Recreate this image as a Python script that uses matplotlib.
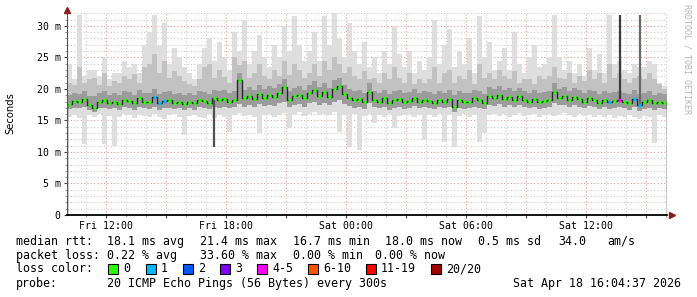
import matplotlib
matplotlib.use("Agg")
import matplotlib.pyplot as plt
from matplotlib.patches import Rectangle
import numpy as np

# time axis: hours since Fri 00:00, one sample every 15 min
T0 = 10.07
STEP = 0.25

# median rtt (ms)
med = [17.6, 18.1, 17.9, 18.4, 17.5, 16.9, 17.9, 18.2, 17.8, 18.0, 17.6, 18.3,
       18.1, 17.7, 18.5, 18.0, 17.9, 18.7, 17.8, 18.1, 18.2, 17.8, 18.0, 17.6,
       18.0, 17.7, 18.3, 18.1, 17.8, 18.6, 18.2, 18.4, 18.0, 18.3, 21.4, 18.5,
       18.9, 18.4, 19.2, 18.6, 19.0, 18.7, 19.4, 20.3, 18.3, 18.8, 19.1, 18.5,
       19.3, 19.8, 18.9, 19.5, 18.7, 20.0, 20.5, 19.2, 18.6, 18.2, 18.4, 17.9,
       19.5, 18.3, 18.0, 18.5, 17.8, 18.2, 18.4, 17.9, 18.1, 18.6, 18.0, 18.3,
       18.1, 17.8, 18.3, 18.0, 18.4, 17.2, 18.2, 17.9, 18.0, 18.5, 18.2, 17.8,
       18.9, 18.6, 19.1, 18.4, 18.7, 18.2, 18.8, 18.3, 18.0, 18.4, 17.9, 18.1,
       18.3, 19.5, 18.6, 18.9, 18.2, 18.7, 18.4, 18.0, 18.5, 18.2, 17.8, 18.3,
       17.9, 18.1, 18.2, 18.0, 17.8, 18.4, 17.5, 17.9, 18.2, 17.7, 18.0, 17.8]

# lost pings out of 20
loss = [0, 0, 0, 0, 0, 0, 0, 0, 0, 0, 0, 0, 0, 0, 0, 0, 0, 1, 1, 1, 0, 0, 0, 0,
        0, 0, 0, 0, 0, 0, 0, 0, 0, 0, 0, 0, 0, 0, 0, 0, 0, 0, 0, 0, 0, 0, 0, 0,
        0, 0, 0, 0, 0, 0, 0, 0, 0, 0, 0, 0, 0, 0, 0, 0, 0, 0, 0, 0, 0, 0, 0, 0,
        0, 0, 0, 0, 0, 0, 0, 0, 0, 0, 0, 0, 0, 0, 0, 0, 0, 0, 0, 0, 0, 0, 0, 0,
        0, 0, 0, 0, 0, 0, 0, 0, 0, 0, 0, 0, 1, 0, 4, 0, 0, 1, 1, 0, 0, 0, 0, 0]

# smoke: fastest ping, lower quartile, upper quartile, 90th pct, slowest ping
lo = [15.6, 15.9, 15.4, 11.2, 15.8, 15.5, 16.0, 11.2, 15.7, 11.0, 15.6, 16.1,
      15.8, 15.4, 15.9, 15.7, 15.5, 16.0, 15.6, 15.3, 15.8, 16.0, 15.5, 12.7,
      15.7, 15.9, 15.6, 15.4, 16.0, 15.4, 15.8, 15.6, 13.2, 15.9, 16.2, 15.7,
      15.9, 15.5, 13.0, 15.8, 16.1, 15.6, 15.9, 16.2, 13.8, 15.8, 16.3, 15.7,
      16.0, 16.3, 15.8, 16.1, 15.9, 16.4, 13.2, 15.8, 10.8, 16.0, 10.3, 15.7,
      16.0, 14.6, 15.8, 15.6, 16.1, 13.8, 15.7, 15.9, 16.0, 15.6, 15.8, 11.9,
      15.9, 15.6, 16.0, 11.6, 15.8, 10.8, 15.7, 16.0, 15.5, 15.9, 11.6, 13.0,
      15.8, 16.1, 15.7, 16.0, 15.6, 15.9, 16.2, 15.7, 15.8, 16.0, 15.5, 15.8,
      16.0, 15.7, 15.9, 16.2, 15.8, 15.6, 16.0, 15.7, 15.9, 15.5, 15.8, 15.6,
      15.9, 15.4, 15.7, 15.5, 15.9, 15.6, 15.3, 15.7, 15.5, 11.4, 15.8, 15.6]
q1 = [16.8, 17.0, 16.9, 17.1, 16.6, 16.3, 16.9, 17.0, 16.8, 16.9, 16.7, 17.1,
      17.0, 16.7, 17.2, 16.9, 16.8, 17.2, 16.7, 16.9, 17.0, 16.8, 16.9, 16.6,
      16.9, 16.7, 17.1, 17.0, 16.8, 17.1, 17.0, 17.2, 16.9, 17.1, 17.6, 17.2,
      17.5, 17.1, 17.6, 17.3, 17.5, 17.3, 17.8, 17.9, 17.1, 17.4, 17.6, 17.2,
      17.7, 18.0, 17.5, 17.8, 17.4, 18.0, 18.2, 17.6, 17.3, 17.0, 17.2, 16.8,
      17.7, 17.1, 16.9, 17.2, 16.7, 17.0, 17.2, 16.8, 17.0, 17.3, 16.9, 17.1,
      17.0, 16.8, 17.1, 16.9, 17.2, 16.4, 17.0, 16.8, 16.9, 17.2, 17.0, 16.8,
      17.5, 17.3, 17.6, 17.2, 17.4, 17.1, 17.5, 17.2, 16.9, 17.2, 16.8, 17.0,
      17.2, 17.8, 17.4, 17.5, 17.1, 17.4, 17.2, 16.9, 17.3, 17.1, 16.8, 17.1,
      16.8, 17.0, 17.1, 16.9, 16.7, 17.2, 16.5, 16.8, 17.0, 16.7, 16.9, 16.8]
q3 = [19.0, 19.4, 19.2, 19.7, 18.9, 18.8, 19.3, 19.6, 19.1, 19.3, 19.0, 19.6,
      19.5, 19.1, 19.8, 19.4, 19.3, 20.0, 19.2, 19.5, 19.6, 19.2, 19.4, 19.0,
      19.3, 19.1, 19.6, 19.5, 19.2, 19.9, 19.6, 19.8, 19.4, 19.7, 22.5, 19.9,
      20.3, 19.8, 20.6, 20.0, 20.4, 20.1, 20.8, 21.6, 19.7, 20.2, 20.5, 19.9,
      20.7, 21.2, 20.3, 20.9, 20.1, 21.4, 21.8, 20.6, 20.0, 19.6, 19.8, 19.3,
      20.9, 19.7, 19.4, 19.9, 19.2, 19.6, 19.8, 19.3, 19.5, 20.0, 19.4, 19.7,
      19.5, 19.2, 19.7, 19.4, 19.8, 19.1, 19.6, 19.3, 19.4, 19.9, 19.6, 19.2,
      20.3, 20.0, 20.5, 19.8, 20.1, 19.6, 20.2, 19.7, 19.4, 19.8, 19.3, 19.5,
      19.7, 20.9, 20.0, 20.3, 19.6, 20.1, 19.8, 19.4, 19.9, 19.6, 19.2, 19.7,
      19.3, 19.5, 19.6, 19.4, 19.2, 19.8, 19.2, 19.3, 19.6, 19.1, 19.4, 19.2]
p90 = [21.0, 20.6, 23.5, 20.9, 21.5, 21.8, 20.7, 22.5, 20.5, 21.2, 21.0, 22.0,
       21.6, 22.3, 21.0, 23.5, 24.0, 25.5, 22.5, 24.5, 21.8, 22.8, 22.0, 21.2,
       20.8, 20.4, 21.5, 23.5, 24.0, 21.7, 23.0, 21.9, 21.0, 25.0, 23.8, 24.5,
       21.8, 22.5, 24.0, 22.0, 21.5, 23.0, 22.0, 24.5, 22.2, 24.0, 23.0, 21.8,
       22.5, 24.0, 22.0, 24.5, 23.0, 25.0, 24.0, 22.5, 23.5, 22.0, 21.5, 22.8,
       21.5, 21.8, 21.0, 22.5, 21.5, 23.5, 21.8, 21.0, 22.5, 20.8, 21.6, 21.0,
       21.5, 23.5, 21.0, 22.5, 23.0, 21.0, 22.0, 21.5, 23.0, 20.8, 24.0, 21.8,
       22.5, 21.5, 23.0, 22.0, 21.5, 22.8, 21.0, 21.5, 21.5, 20.8, 22.0, 21.5,
       22.0, 23.5, 21.8, 21.5, 22.5, 21.0, 22.0, 21.2, 23.0, 21.5, 22.5, 21.0,
       24.0, 21.8, 22.5, 21.5, 21.0, 21.8, 22.0, 21.5, 22.5, 21.6, 20.8, 20.0]
hi = [24.0, 21.5, 31.8, 22.0, 23.0, 23.0, 22.0, 25.0, 21.5, 22.5, 22.5, 24.5,
      23.5, 24.0, 22.5, 27.0, 29.0, 31.8, 27.0, 30.5, 24.0, 26.5, 25.0, 23.5,
      22.5, 21.5, 24.0, 26.5, 28.0, 24.5, 27.5, 25.0, 23.0, 29.0, 26.0, 31.0,
      24.0, 26.0, 28.5, 25.0, 23.5, 27.0, 25.0, 30.0, 26.0, 31.5, 27.0, 24.5,
      26.0, 29.0, 24.5, 31.5, 27.0, 32.0, 28.0, 25.0, 30.5, 26.0, 24.0, 27.5,
      23.5, 25.0, 22.5, 26.0, 24.0, 30.0, 25.5, 23.5, 26.0, 22.5, 24.5, 23.0,
      25.0, 31.0, 24.0, 27.0, 29.5, 23.5, 26.0, 24.0, 28.0, 22.5, 31.5, 25.0,
      27.5, 23.0, 24.5, 26.5, 23.0, 29.0, 24.0, 22.5, 25.0, 27.0, 23.5, 24.0,
      25.0, 31.8, 25.0, 23.0, 24.5, 22.5, 24.0, 22.0, 26.5, 23.0, 25.5, 22.5,
      31.8, 24.0, 24.5, 23.0, 22.5, 24.0, 23.5, 23.5, 24.5, 24.0, 21.0, 20.5]

# thin dark single-sample outliers (sample index, value)
spike_idx = [29, 110, 114]
spike_val = [10.8, 31.8, 31.8]
spike_col = ["#505050", "#3c3c3c", "#6a6a6a"]

loss_keys = [0, 1, 2, 3, 4, 6, 11, 20]
loss_labels = ["0", "1", "2", "3", "4-5", "6-10", "11-19", "20/20"]
loss_cols = ["#26ff00", "#00b8ff", "#0059ff", "#7e00ff", "#ff00ff",
             "#ff5500", "#ff0000", "#a10000"]

x_tick_pos = [12, 15, 18, 21, 24, 27, 30, 33, 36, 39]
x_tick_lab = ["Fri 12:00", "", "Fri 18:00", "", "Sat 00:00", "",
              "Sat 06:00", "", "Sat 12:00", ""]
y_tick_pos = [0, 5, 10, 15, 20, 25, 30]
y_tick_lab = ["0", "5 m", "10 m", "15 m", "20 m", "25 m", "30 m"]

rtt_line = [("median rtt:", 16), ("18.1 ms avg", 107), ("21.4 ms max", 200),
            ("16.7 ms min", 293), ("18.0 ms now", 385), ("0.5 ms sd", 478),
            ("34.0", 558), ("am/s", 607)]
loss_line = [("packet loss:", 16), ("0.22 % avg", 107), ("33.60 % max", 200),
             ("0.00 % min", 293), ("0.00 % now", 375)]
box_x = [108, 146, 183, 220, 257, 308, 366, 431]


def loss_color(n):
    c = loss_cols[0]
    for k, col in zip(loss_keys, loss_cols):
        if n >= k:
            c = col
    return c


W, H = 697, 297
plt.rcParams["font.family"] = "DejaVu Sans Mono"
fig = plt.figure(figsize=(W / 100, H / 100), dpi=100)
fig.patch.set_facecolor("white")
ax = fig.add_axes([67 / W, (H - 215) / H, 600 / W, (215 - 12) / H])

edges = T0 + STEP * np.arange(len(med) + 1)
mids = edges[:-1] + STEP / 2
ax.stairs(hi, edges, baseline=lo, fill=True, color="#dedede", lw=0)
ax.stairs(p90, edges, baseline=q1, fill=True, color="#c2c2c2", lw=0)
ax.stairs(q3, edges, baseline=q1, fill=True, color="#9c9c9c", lw=0)
ax.vlines(mids[spike_idx], [med[i] for i in spike_idx], spike_val,
          colors=spike_col, lw=1.6)
ax.stairs(med, edges, color="#2a2a2a", lw=1.0)
ax.hlines(med, edges[:-1] + 0.18 * STEP, edges[1:] - 0.18 * STEP,
          colors=[loss_color(n) for n in loss], lw=2.4, zorder=3)

ax.set_xlim(T0, T0 + 30)
ax.set_ylim(0, 32.2)
ax.set_xticks(x_tick_pos)
ax.set_xticklabels(x_tick_lab)
ax.set_xticks(np.arange(11, 41, 1), minor=True)
ax.set_yticks(y_tick_pos)
ax.set_yticklabels(y_tick_lab)
ax.set_yticks(np.arange(1, 33, 1), minor=True)
ax.set_axisbelow(True)
ax.grid(which="minor", color="#c8c8c8", ls=(0, (1, 2)), lw=0.8)
ax.grid(which="major", color="#e39a9a", ls=(0, (1, 2)), lw=0.8)
ax.tick_params(which="major", length=2, pad=2.5, labelsize=7.1, color="#444444")
ax.tick_params(which="minor", length=1.5, color="#888888")

for s in ("top", "right"):
    ax.spines[s].set_visible(False)
ax.spines["left"].set_color("#555555")
ax.spines["bottom"].set_color("black")
ax.spines["bottom"].set_linewidth(1.3)

ax.plot([0], [1.01], marker="^", ms=4.5, color="#8b1a1a", transform=ax.transAxes,
        clip_on=False)
ax.plot([1.008], [0], marker=">", ms=4.5, color="#8b1a1a", transform=ax.transAxes,
        clip_on=False)

fig.text(10 / W, 1 - 113 / H, "Seconds", rotation=90, ha="center", va="center",
         fontsize=7.2, family="DejaVu Sans")
fig.text(687 / W, 1 - 4 / H, "RRDTOOL / TOBI OETIKER", rotation=-90, ha="center",
         va="top", fontsize=6, color="#b4b4b4")


def put(txt, x, y, ha="left"):
    fig.text(x / W, 1 - y / H, txt, ha=ha, va="center", fontsize=8.4)


for txt, x in rtt_line:
    put(txt, x, 241.5)
for txt, x in loss_line:
    put(txt, x, 255.5)
put("loss color:", 16, 269)
for lab, col, x in zip(loss_labels, loss_cols, box_x):
    fig.add_artist(Rectangle((x / W, 1 - 274 / H), 10 / W, 10 / H,
                             transform=fig.transFigure, fc=col, ec="black", lw=0.8))
    put(lab, x + 15, 269)
put("probe:", 16, 283)
put("20 ICMP Echo Pings (56 Bytes) every 300s", 107, 283)
put("Sat Apr 18 16:04:37 2026", 681, 283, ha="right")

fig.savefig("out.png", dpi=100)
